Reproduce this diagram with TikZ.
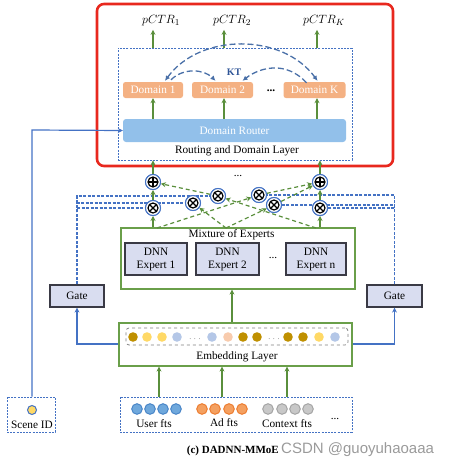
\documentclass[tikz,border=0pt]{standalone}
\usepackage{fontspec}
\setmainfont{Liberation Serif}
\newfontfamily\wmfont{Liberation Sans}
\usetikzlibrary{arrows.meta}
\definecolor{redc}{HTML}{E8281E}
\definecolor{greenc}{HTML}{5A8F3C}
\definecolor{boxgreen}{HTML}{6A9F4A}
\definecolor{blueline}{HTML}{4472C4}
\definecolor{gatefill}{HTML}{D9DDF0}
\definecolor{darkedge}{HTML}{3A3A45}
\definecolor{domfill}{HTML}{F4B183}
\definecolor{routfill}{HTML}{92C0EA}
\definecolor{ktblue}{HTML}{2F5597}
\definecolor{ktline}{HTML}{4A70A8}
\definecolor{goldc}{HTML}{BF9000}
\definecolor{yelc}{HTML}{FFD966}
\definecolor{lblue}{HTML}{B4C7E7}
\definecolor{peach}{HTML}{F8CBAD}
\definecolor{userfill}{HTML}{6FA8DC}
\definecolor{useredge}{HTML}{4A86C8}
\definecolor{adfill}{HTML}{F4A060}
\definecolor{adedge}{HTML}{ED7D31}
\definecolor{ctxfill}{HTML}{C8C8C8}
\definecolor{ctxedge}{HTML}{A5A5A5}
\definecolor{wmgray}{HTML}{9A9A9A}
\begin{document}
\begin{tikzpicture}[x=1pt,y=-1pt,
  font=\fontsize{11.3}{13}\selectfont,
  garrow/.style={draw=greenc, line width=1.4pt, -{Stealth[length=5pt,width=5pt]}},
  gdash/.style={draw=greenc, line width=1.2pt, dash pattern=on 4pt off 3pt, -{Stealth[length=5pt,width=5pt]}},
  bline/.style={draw=blueline, line width=1.2pt},
  bdash/.style={draw=blueline, line width=1.1pt, dash pattern=on 3pt off 1.5pt},
  dbox/.style={draw=blueline, line width=0.8pt, dash pattern=on 2pt off 1.2pt},
  gbox/.style={draw=boxgreen, line width=1.1pt, fill=white},
  graybox/.style={draw=darkedge, line width=1.2pt, fill=gatefill, inner sep=0, align=center},
  dombox/.style={fill=domfill, rounded corners=2.5pt, text=white, minimum height=16pt, inner sep=0},
  ktarr/.style={draw=ktline, line width=1.3pt, dash pattern=on 6pt off 3pt, -{Latex[length=5pt,width=5pt]}},
  opc/.style={circle, draw=blueline, line width=1pt, fill=white, minimum size=15pt, inner sep=0},
  otimesn/.style={opc, path picture={
     \draw[black, line width=1.2pt] (path picture bounding box.center) circle (5pt);
     \draw[black, line width=1.4pt] ([shift={(-3.5pt,-3.5pt)}]path picture bounding box.center) -- ([shift={(3.5pt,3.5pt)}]path picture bounding box.center);
     \draw[black, line width=1.4pt] ([shift={(-3.5pt,3.5pt)}]path picture bounding box.center) -- ([shift={(3.5pt,-3.5pt)}]path picture bounding box.center);}},
  oplusn/.style={opc, path picture={
     \draw[black, line width=1.2pt] (path picture bounding box.center) circle (5pt);
     \draw[black, line width=1.4pt] ([shift={(-5pt,0pt)}]path picture bounding box.center) -- ([shift={(5pt,0pt)}]path picture bounding box.center);
     \draw[black, line width=1.4pt] ([shift={(0pt,-5pt)}]path picture bounding box.center) -- ([shift={(0pt,5pt)}]path picture bounding box.center);}},
]
\useasboundingbox (0,0) rectangle (456,466);

% ---------- top: red box and routing layer ----------
\draw[redc, line width=2.6pt, rounded corners=7pt] (97,4) rectangle (393,166);
\node[dbox, minimum width=234pt, minimum height=112pt, inner sep=0] (rl) at (235,104) {};
\node[fill=routfill, rounded corners=3pt, minimum width=223pt, minimum height=23pt, inner sep=0, text=white] (router) at (234.5,130.5) {Domain Router};
\node (rltxt) at (237,151) {Routing and Domain Layer};
\node[dombox, minimum width=60pt] (d1) at (153,90) {Domain 1};
\node[dombox, minimum width=61pt] (d2) at (222.5,90) {Domain 2};
\node[dombox, minimum width=62pt] (dk) at (314.5,90) {Domain K};
\node (ddots) at (271,91) {\textbf{...}};
\node[text=ktblue, font=\fontsize{10}{12}\selectfont\bfseries] (kt) at (234,72) {KT};

\draw[garrow] (153,119) -- (d1.south -| 153,0);
\draw[garrow] (224,119) -- (d2.south -| 224,0);
\draw[garrow] (317,119) -- (dk.south -| 317,0);
\node (p1) at (161,21) {\fontsize{13}{15}\selectfont$pCTR_1$};
\node (p2) at (232,21) {\fontsize{13}{15}\selectfont$pCTR_2$};
\node (pk) at (324,21) {\fontsize{13}{15}\selectfont$pCTR_K$};
\draw[garrow] (rl.north -| 153,0) -- (p1.south -| 153,0);
\draw[garrow] (rl.north -| 224,0) -- (p2.south -| 224,0);
\draw[garrow] (rl.north -| 317,0) -- (pk.south -| 317,0);

% KT arcs
\draw[ktarr, {Latex[length=5pt,width=5pt]}-{Latex[length=5pt,width=5pt]}] ([xshift=12pt,yshift=1pt]d1.north) .. controls +(35,-48) and +(-35,-48) .. ([xshift=3pt,yshift=1pt]dk.north);
\draw[ktarr] ([xshift=18pt,yshift=2pt]d1.north) .. controls +(12,-12) and +(-12,-12) .. ([xshift=-7pt,yshift=1pt]d2.north);
\draw[ktarr] ([xshift=-8pt,yshift=-1pt]dk.north) .. controls +(-20,-22) and +(18,-14) .. ([xshift=20pt,yshift=1pt]d2.north);

% ---------- mixing layer ----------
\node[otimesn] (a1) at (153,208) {};
\node[otimesn] (a2) at (193,203) {};
\node[otimesn] (a3) at (218,196) {};
\node[otimesn] (b1) at (259,195) {};
\node[otimesn] (b2) at (274,205) {};
\node[otimesn] (b3) at (320,208) {};
\node[oplusn] (sL) at (153,182) {};
\node[oplusn] (sR) at (320,182) {};
\node (mdots) at (238,176) {...};

% MoE box
\node[gbox, minimum width=234pt, minimum height=61pt, inner sep=0] (moe) at (238,258.5) {};
\node (moetxt) at (231.5,235) {Mixture of Experts};
\node[graybox, minimum width=62pt, minimum height=32pt] (x1) at (156,259) {DNN\\Expert 1};
\node[graybox, minimum width=63pt, minimum height=32pt] (x2) at (227.5,259) {DNN\\Expert 2};
\node[graybox, minimum width=60pt, minimum height=32pt] (xn) at (316,259) {DNN\\Expert n};
\node (xdots) at (273,258) {...};
\coordinate (e1) at (157,228);
\coordinate (e2) at (226,228);
\coordinate (en) at (316,228);

% gates
\node[graybox, minimum width=54pt, minimum height=22pt] (gL) at (77,296) {Gate};
\node[graybox, minimum width=55pt, minimum height=22pt] (gR) at (394.5,296) {Gate};

% gate dashed lines
\draw[bdash] (gL.north) |- (a3.west);
\draw[bdash] (gL.north) |- (a2.west);
\draw[bdash] (gL.north) |- (a1.west);
\draw[bdash] (gR.north) |- (b1.east);
\draw[bdash] (gR.north) |- (b2.east);
\draw[bdash] (gR.north) |- (b3.east);

% green solid verticals
\draw[garrow] (moe.north -| a1) -- (a1);
\draw[garrow] (a1) -- (sL);
\draw[garrow] (sL) -- (rl.south -| sL);
\draw[garrow] (moe.north -| b3) -- (b3);
\draw[garrow] (b3) -- (sR);
\draw[garrow] (sR) -- (rl.south -| sR);

% green dashed
\draw[gdash] (e1) -- (b1);
\draw[gdash] (e2) -- (a2);
\draw[gdash] (e2) -- (b2);
\draw[gdash] (en) -- (a3);
\draw[gdash] (a3) -- (sL);
\draw[gdash] (b1) -- (sR);
\draw[gdash] (b2) -- (sR);

% redraw circles on top of the lines
\node[otimesn] at (a1) {};
\node[otimesn] at (a2) {};
\node[otimesn] at (a3) {};
\node[otimesn] at (b1) {};
\node[otimesn] at (b2) {};
\node[otimesn] at (b3) {};
\node[oplusn] at (sL) {};
\node[oplusn] at (sR) {};

% ---------- embedding ----------
\node[gbox, minimum width=233pt, minimum height=43pt, inner sep=0] (emb) at (235.5,344.5) {};
\node[draw=gray, dashed, line width=0.8pt, rounded corners=3pt, minimum width=222pt, minimum height=17pt, inner sep=0] (embin) at (237,336.5) {};
\node (embtxt) at (237,357) {Embedding Layer};
\foreach \x/\c in {133/goldc,147/yelc,162/yelc,177/lblue,212/lblue,228/peach,243/goldc,257/goldc,288/goldc,303/goldc,319/yelc,335/lblue} {
  \fill[\c] (\x,337) circle (4.8);
}
\node[text=gray, font=\fontsize{8}{9}\selectfont] (edots1) at (195,339) {. . .};
\node[text=gray, font=\fontsize{8}{9}\selectfont] (edots2) at (274,339) {. . .};
\draw[garrow] (emb.north -| 232,0) -- (moe.south -| 232,0);
\draw[bline, -{Stealth[length=5pt,width=5pt]}] (emb.west |- 0,344) -| (gL.south);
\draw[bline, -{Stealth[length=5pt,width=5pt]}] (emb.east |- 0,344) -| (gR.south);

% ---------- features ----------
\node[dbox, minimum width=232pt, minimum height=35pt, inner sep=0] (feat) at (236,414.5) {};
\foreach \x in {137,150,163,176} {\draw[useredge, fill=userfill, line width=1pt] (\x,409) circle (5.3);}
\foreach \x in {202,215,229,242} {\draw[adedge, fill=adfill, line width=1pt] (\x,409) circle (5.3);}
\foreach \x in {268,282,295,308} {\draw[ctxedge, fill=ctxfill, line width=1pt] (\x,409) circle (5.3);}
\node (ut) at (154,424) {User fts};
\node (at) at (224,423) {Ad fts};
\node (ct) at (287,424) {Context fts};
\node (fdots) at (335,419) {...};
\draw[garrow] (feat.north -| 159,0) -- (emb.south -| 159,0);
\draw[garrow] (feat.north -| 222,0) -- (emb.south -| 222,0);
\draw[garrow] (feat.north -| 287,0) -- (emb.south -| 287,0);

% ---------- scene id ----------
\node[dbox, minimum width=48pt, minimum height=35pt, inner sep=0] (scene) at (31,414.5) {};
\draw[blueline, fill=yelc, line width=1pt] (32,410) circle (4.5);
\node (scenetxt) at (32,425) {Scene ID};
\draw[bline, -{Stealth[length=5pt,width=5pt]}] (scene.north -| 32,0) -- (32,130) -- (router.west);

% ---------- caption ----------
\node[anchor=base east, font=\fontsize{11}{13}\selectfont\bfseries, inner sep=0] (cap) at (279,453) {(c) DADNN-MMoE};
\node[anchor=base west, font=\wmfont\fontsize{15}{17}\selectfont, text=wmgray, inner sep=0] (wm) at (281,453) {CSDN @guoyuhaoaaa};
\end{tikzpicture}
\end{document}
